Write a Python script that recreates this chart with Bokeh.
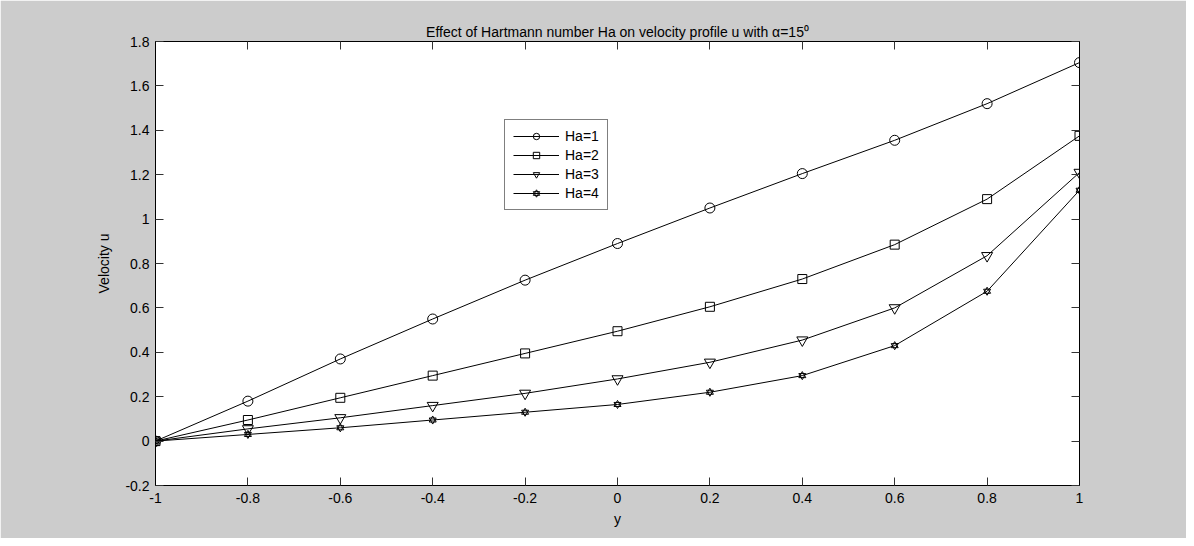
from bokeh.plotting import figure
from bokeh.models import Range1d, FixedTicker, LinearAxis, Legend, LegendItem
from bokeh.embed import file_html
from bokeh.resources import INLINE

y_pos = [-1.0, -0.8, -0.6, -0.4, -0.2, 0.0, 0.2, 0.4, 0.6, 0.8, 1.0]
u_ha1 = [0.0, 0.18, 0.37, 0.55, 0.725, 0.89, 1.05, 1.205, 1.355, 1.52, 1.705]
u_ha2 = [0.0, 0.095, 0.195, 0.295, 0.395, 0.495, 0.605, 0.73, 0.885, 1.09, 1.375]
u_ha3 = [0.0, 0.055, 0.105, 0.16, 0.215, 0.28, 0.355, 0.455, 0.60, 0.835, 1.21]
u_ha4 = [0.0, 0.03, 0.06, 0.095, 0.13, 0.165, 0.22, 0.295, 0.43, 0.675, 1.13]
labels = ["Ha=1", "Ha=2", "Ha=3", "Ha=4"]

x_ticks = [-1.0, -0.8, -0.6, -0.4, -0.2, 0.0, 0.2, 0.4, 0.6, 0.8, 1.0]
x_tick_labels = ["-1", "-0.8", "-0.6", "-0.4", "-0.2", "0", "0.2", "0.4", "0.6", "0.8", "1"]
y_ticks = [-0.2, 0.0, 0.2, 0.4, 0.6, 0.8, 1.0, 1.2, 1.4, 1.6, 1.8]
y_tick_labels = ["-0.2", "0", "0.2", "0.4", "0.6", "0.8", "1", "1.2", "1.4", "1.6", "1.8"]

FONT = "Liberation Sans"
FS = "14px"

p = figure(width=1186, height=538, output_backend="svg", toolbar_location=None,
           x_range=Range1d(-1, 1), y_range=Range1d(-0.2, 1.8),
           min_border_left=155, min_border_right=107, min_border_top=41, min_border_bottom=53)

p.border_fill_color = "#cccccc"
p.background_fill_color = "white"
p.outline_line_color = "black"
p.outline_line_width = 1
p.grid.visible = False

p.title.text = "Effect of Hartmann number Ha on velocity profile u with \u03b1=15\u2070"
p.title.align = "center"
p.title.text_font = FONT
p.title.text_font_size = FS
p.title.text_font_style = "normal"
p.title.text_color = "black"
p.title.offset = 0
p.title.standoff = 4

def style_axis(ax):
    ax.major_tick_in = 8
    ax.major_tick_out = 0
    ax.minor_tick_line_color = None
    ax.axis_line_color = "black"
    ax.major_tick_line_color = "#333333"
    ax.major_label_text_font = FONT
    ax.major_label_text_font_size = FS
    ax.major_label_text_color = "black"
    ax.axis_label_text_font = FONT
    ax.axis_label_text_font_size = FS
    ax.axis_label_text_font_style = "normal"
    ax.axis_label_text_color = "black"

xa = p.xaxis[0]
xa.ticker = FixedTicker(ticks=x_ticks)
xa.major_label_overrides = {t: l for t, l in zip(x_ticks, x_tick_labels)}
xa.axis_label = "y"
xa.major_label_standoff = 7
xa.axis_label_standoff = 5
style_axis(xa)

ya = p.yaxis[0]
ya.ticker = FixedTicker(ticks=y_ticks)
ya.major_label_overrides = {t: l for t, l in zip(y_ticks, y_tick_labels)}
ya.axis_label = "Velocity u"
ya.major_label_standoff = 6
ya.axis_label_standoff = 10
style_axis(ya)

top = LinearAxis(ticker=FixedTicker(ticks=x_ticks), major_label_standoff=0,
                 major_label_overrides={t: "" for t in x_ticks})
style_axis(top)
p.add_layout(top, "above")
right = LinearAxis(ticker=FixedTicker(ticks=y_ticks), major_label_standoff=0,
                   major_label_overrides={t: "" for t in y_ticks})
style_axis(right)
p.add_layout(right, "right")

series = [u_ha1, u_ha2, u_ha3, u_ha4]
items = []
kw = dict(fill_color=None, line_color="black", line_width=1)
for i, (vals, lab) in enumerate(zip(series, labels)):
    ln = p.line(y_pos, vals, line_color="black", line_width=1)
    rs = [ln]
    if i == 0:
        rs.append(p.scatter(y_pos, vals, marker="circle", size=10, **kw))
    elif i == 1:
        rs.append(p.scatter(y_pos, vals, marker="square", size=9, **kw))
    elif i == 2:
        rs.append(p.scatter(y_pos, vals, marker="inverted_triangle", size=11, **kw))
    else:
        rs.append(p.scatter(y_pos, vals, marker="triangle", size=7, **kw))
        rs.append(p.scatter(y_pos, vals, marker="inverted_triangle", size=7, **kw))
    items.append(LegendItem(label=lab, renderers=rs))

legend = Legend(items=items, location=(349, 275), orientation="vertical",
                border_line_color="black", border_line_width=1,
                background_fill_color="white", background_fill_alpha=1,
                label_text_font=FONT, label_text_font_size=FS, label_text_color="black",
                glyph_width=46, glyph_height=16, label_standoff=6, spacing=3,
                padding=8, margin=0, label_height=16)
p.add_layout(legend, "center")

open("out.html", "w").write(file_html(p, INLINE))
